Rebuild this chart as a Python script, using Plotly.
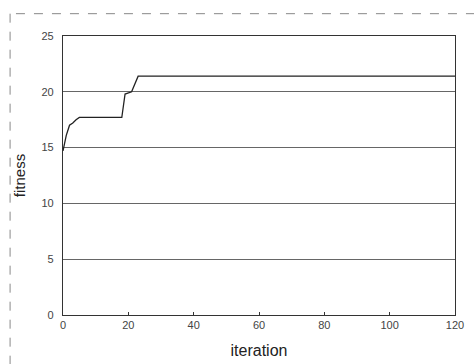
import plotly.graph_objects as go

# data
iteration = [0, 1, 2, 3, 4, 5, 18, 19, 21, 23, 120]
fitness = [14.7, 16.1, 17.0, 17.2, 17.5, 17.7, 17.7, 19.8, 20.0, 21.4, 21.4]

x_ticks = [0, 20, 40, 60, 80, 100, 120]
y_ticks = [0, 5, 10, 15, 20, 25]

fig = go.Figure()
fig.add_trace(go.Scatter(
    x=iteration, y=fitness, mode="lines",
    line=dict(color="#222222", width=1.3),
    showlegend=False,
))

font_family = "Liberation Sans, Arial, sans-serif"

fig.update_layout(
    width=474, height=364,
    margin=dict(l=63, r=19, t=36, b=49),
    paper_bgcolor="white", plot_bgcolor="white",
    font=dict(family=font_family, color="#333333"),
    xaxis=dict(
        range=[0, 120], tickvals=x_ticks, ticktext=[str(v) for v in x_ticks],
        showgrid=False, zeroline=False, automargin=False,
        showline=True, linecolor="#333333", linewidth=1.2, mirror=True,
        ticks="inside", ticklen=3, tickcolor="#333333",
        tickfont=dict(size=11, color="#444444"),
        title=dict(text="iteration", font=dict(size=16, color="#222222"), standoff=14),
    ),
    yaxis=dict(
        range=[0, 25], tickvals=y_ticks, ticktext=[str(v) for v in y_ticks],
        showgrid=True, gridcolor="#666666", gridwidth=1,
        zeroline=False, automargin=False,
        showline=True, linecolor="#333333", linewidth=1.2, mirror=True,
        ticks="", tickfont=dict(size=11, color="#444444"),
        ticklabelstandoff=6,
        title=dict(text="fitness", font=dict(size=15, color="#222222"), standoff=12),
    ),
)

# faint outer frame from the scanned page
fig.add_shape(type="line", xref="paper", yref="paper",
              x0=-0.12, x1=1.05, y0=1.08, y1=1.08,
              line=dict(color="#888888", width=1, dash="dash"))
fig.add_shape(type="line", xref="paper", yref="paper",
              x0=-0.135, x1=-0.135, y0=1.08, y1=-0.18,
              line=dict(color="#888888", width=1, dash="dash"))

fig.write_html("out.html")
